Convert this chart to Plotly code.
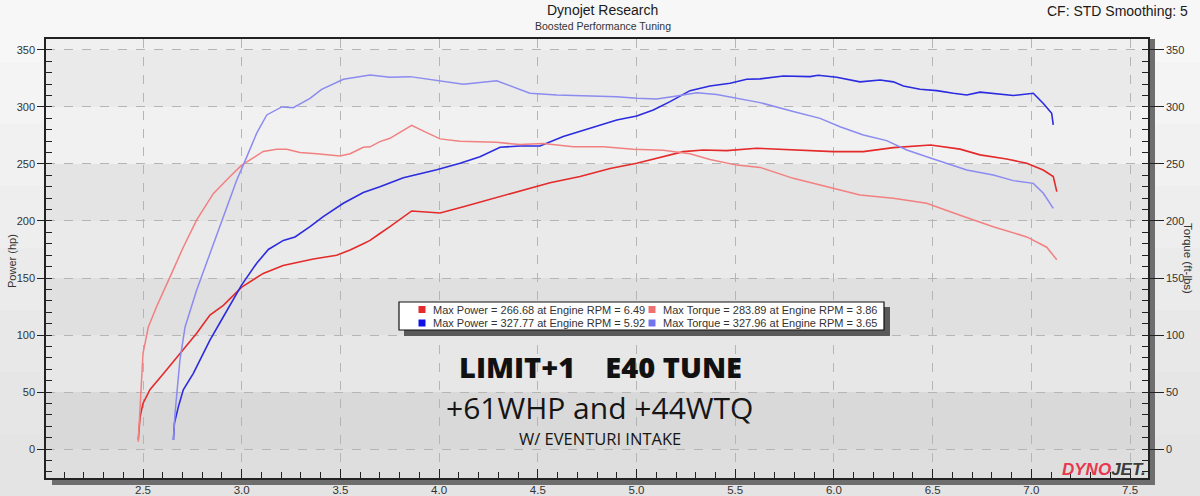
import plotly.graph_objects as go

# ---------------- data ----------------
stock_power_rpm = [2.476, 2.485, 2.5, 2.535, 2.603, 2.687, 2.772, 2.839, 2.907, 3.0, 3.109, 3.21, 3.279, 3.363,
                   3.481, 3.549, 3.616, 3.65, 3.70, 3.751, 3.861, 3.954, 4.005, 4.123, 4.241, 4.359, 4.46, 4.562,
                   4.714, 4.866, 5.001, 5.136, 5.237, 5.338, 5.457, 5.608, 5.794, 5.997, 6.149, 6.301, 6.49,
                   6.639, 6.74, 6.875, 6.977, 7.06, 7.111, 7.129]
stock_power_hp = [8, 28, 40, 52, 66, 84, 101.5, 117.5, 126, 142, 154, 161, 163.5, 166.7,
                  170, 174.6, 180, 183, 189, 195, 208.8, 208, 207, 212.5, 218, 223.7, 228.6, 233.6,
                  239, 246, 250.6, 256.4, 260.8, 262.3, 261.7, 263.8, 262.3, 260.8, 260.8, 264.3, 266.7,
                  263, 258, 254.4, 250.6, 244.7, 239, 225.7]

stock_torque_rpm = [2.476, 2.485, 2.5, 2.527, 2.569, 2.637, 2.704, 2.772, 2.856, 2.941, 3.0, 3.109, 3.177,
                    3.228, 3.295, 3.38, 3.498, 3.549, 3.616, 3.65, 3.70, 3.751, 3.861, 3.937, 4.005, 4.106,
                    4.224, 4.29, 4.41, 4.528, 4.68, 4.832, 4.984, 5.136, 5.271, 5.372, 5.508, 5.626, 5.794,
                    5.963, 6.132, 6.301, 6.47, 6.639, 6.807, 6.977, 7.078, 7.129]
stock_torque_ftlb = [6.4, 31.6, 84, 107, 125, 151, 177, 201, 224, 239, 249, 261, 263,
                     263, 260, 259, 257, 259, 264.6, 265, 269.6, 272.5, 283.9, 277.5, 272, 270,
                     269, 269, 267, 268, 265, 265, 263, 262, 259, 254, 249, 247, 237.4,
                     230, 222.8, 220, 215.5, 205, 195, 186, 177, 166]

tuned_power_rpm = [2.654, 2.659, 2.679, 2.704, 2.755, 2.839, 2.907, 3.0, 3.076, 3.135, 3.211, 3.27, 3.346,
                   3.413, 3.515, 3.616, 3.70, 3.819, 3.988, 4.106, 4.207, 4.309, 4.41, 4.511, 4.629, 4.764,
                   4.9, 5.001, 5.085, 5.17, 5.271, 5.372, 5.474, 5.558, 5.626, 5.744, 5.879, 5.92, 6.014,
                   6.132, 6.234, 6.301, 6.352, 6.436, 6.521, 6.605, 6.673, 6.74, 6.909, 7.01, 7.061, 7.103, 7.111]
tuned_power_hp = [8, 22.5, 37, 52, 66.4, 95.6, 116, 144, 163, 175, 183, 186, 195,
                  203.8, 215.5, 225, 230, 238, 245, 250.6, 256.4, 264.6, 265.8, 265.8, 274, 281.3,
                  288.6, 292, 297.4, 304.7, 314.3, 318.4, 320.8, 324.3, 324.6, 327.2, 326.6, 327.8, 326,
                  322, 323.7, 322, 318.4, 315.5, 314.3, 312, 310.5, 313, 310, 312, 303, 294.5, 284.2]

tuned_torque_rpm = [2.654, 2.662, 2.687, 2.713, 2.772, 2.839, 2.907, 2.975, 3.025, 3.076, 3.127, 3.203,
                    3.261, 3.346, 3.405, 3.515, 3.65, 3.751, 3.853, 3.988, 4.123, 4.292, 4.376, 4.46, 4.596,
                    4.731, 4.9, 5.001, 5.102, 5.204, 5.305, 5.406, 5.508, 5.626, 5.794, 5.93, 6.031, 6.149,
                    6.267, 6.369, 6.504, 6.673, 6.807, 6.909, 7.01, 7.061, 7.111]
tuned_torque_ftlb = [8, 31, 78, 107, 139.5, 171.7, 203.8, 236, 256, 277, 293, 300,
                     299.4, 307.6, 315.5, 324.3, 328, 326, 326.6, 323, 320, 323, 317.8, 312, 310.5,
                     309.6, 309, 307.6, 307, 309.6, 312.5, 311, 307.6, 303.8, 296, 290, 282.7, 275.4,
                     270.5, 262.3, 254.4, 244.7, 240.4, 235.4, 233, 224.3, 211]

legend_labels = [
    "Max Power = 266.68 at Engine RPM = 6.49",
    "Max Torque = 283.89 at Engine RPM = 3.86",
    "Max Power = 327.77 at Engine RPM = 5.92",
    "Max Torque = 327.96 at Engine RPM = 3.65",
]
x_tick_vals = [2.5, 3.0, 3.5, 4.0, 4.5, 5.0, 5.5, 6.0, 6.5, 7.0, 7.5]
y_tick_vals = [0, 50, 100, 150, 200, 250, 300, 350]

# ---------------- styling ----------------
RED = "#e42a2a"
LRED = "#f28080"
BLUE = "#2b2bdf"
LBLUE = "#8b8bf0"
FONT = "Liberation Sans"

W, H = 1200, 496
L, R, T, B = 46, 52, 39, 18
PW, PH = W - L - R, H - T - B
X_RANGE = [2.0086, 7.591]
Y_RANGE = [-25.4, 359.6]


def px(x, y):
    return (x - L) / PW, (H - B - y) / PH


fig = go.Figure()
fig.add_trace(go.Scatter(x=stock_torque_rpm, y=stock_torque_ftlb, mode="lines", yaxis="y2",
                         line=dict(color=LRED, width=1.5), showlegend=False))
fig.add_trace(go.Scatter(x=tuned_torque_rpm, y=tuned_torque_ftlb, mode="lines", yaxis="y2",
                         line=dict(color=LBLUE, width=1.5), showlegend=False))
fig.add_trace(go.Scatter(x=stock_power_rpm, y=stock_power_hp, mode="lines",
                         line=dict(color=RED, width=1.6), showlegend=False))
fig.add_trace(go.Scatter(x=tuned_power_rpm, y=tuned_power_hp, mode="lines",
                         line=dict(color=BLUE, width=1.6), showlegend=False))

shapes = []
# paper gradient (strips)
strip_cols = ["#f7f7f7", "#f4f4f4", "#f1f1f1", "#eeeeee", "#ebebeb", "#e8e8e8", "#e6e6e6", "#e4e4e4"]
n = len(strip_cols)
for i, c in enumerate(strip_cols):
    y0 = H * i / n
    y1 = H * (i + 1) / n
    x0p, y0p = px(0, y0)
    x1p, y1p = px(W, y1)
    shapes.append(dict(type="rect", xref="paper", yref="paper", x0=x0p, x1=x1p, y0=y1p, y1=y0p,
                       fillcolor=c, line_width=0, layer="below"))

# plot-area bands
band_edges = [Y_RANGE[0], 0, 50, 100, 150, 200, 250, 300, 350, Y_RANGE[1]]
band_cols = ["#dedede", "#d9d9d9", "#e7e7e7", "#e0e0e0", "#eaeaea", "#e4e4e4", "#f1f1f1", "#eaeaea", "#f0f0f0"]
for i, c in enumerate(band_cols):
    shapes.append(dict(type="rect", xref="paper", yref="y", x0=0, x1=1,
                       y0=band_edges[i], y1=band_edges[i + 1], fillcolor=c, line_width=0, layer="below"))

# right axis bar and bottom shadow bar
bx0, by0 = px(1148, 478)
bx1, by1 = px(1155, 485)
shapes.append(dict(type="rect", xref="paper", yref="paper", x0=bx0, x1=bx1, y0=by1, y1=1,
                   fillcolor="#6e6e6e", line_width=0, layer="below"))
sx0, _ = px(52, 478)
shapes.append(dict(type="rect", xref="paper", yref="paper", x0=sx0, x1=bx1, y0=by1, y1=0,
                   fillcolor="#6e6e6e", line_width=0, layer="below"))

# legend box: shadow + box
lx0, ly0 = px(404, 307)
lx1, ly1 = px(890, 336)
shapes.append(dict(type="rect", xref="paper", yref="paper", x0=lx0, x1=lx1, y0=ly1, y1=ly0,
                   fillcolor="#5a5a5a", line_width=0, layer="above"))
lx0, ly0 = px(399, 302)
lx1, ly1 = px(884, 330)
shapes.append(dict(type="rect", xref="paper", yref="paper", x0=lx0, x1=lx1, y0=ly1, y1=ly0,
                   fillcolor="white", line=dict(color="#111111", width=1.2), layer="above"))

legend_cols = [RED, "#f07070", "#1010e8", "#7474f0"]
legend_pos = [(422, 309.5), (652, 309.5), (422, 323), (652, 323)]
annotations = []
for lab, col, (cx, cy) in zip(legend_labels, legend_cols, legend_pos):
    a0, b0 = px(cx - 3.5, cy - 3.5)
    a1, b1 = px(cx + 3.5, cy + 3.5)
    shapes.append(dict(type="rect", xref="paper", yref="paper", x0=a0, x1=a1, y0=b1, y1=b0,
                       fillcolor=col, line_width=0, layer="above"))
    tx, ty = px(cx + 9, cy)
    annotations.append(dict(text=lab, xref="paper", yref="paper", x=tx, y=ty, xanchor="left",
                            yanchor="middle", showarrow=False,
                            font=dict(family=FONT, size=11, color="#333333")))


def ann(text, x, y, size, color="#222222", family=FONT, xanchor="center", angle=0, weight=None):
    xp, yp = px(x, y)
    f = dict(family=family, size=size, color=color)
    if weight:
        f["weight"] = weight
    annotations.append(dict(text=text, xref="paper", yref="paper", x=xp, y=yp, xanchor=xanchor,
                            yanchor="middle", showarrow=False, textangle=angle, font=f))


ann("Dynojet Research", 602, 10, 14, "#1a1a1a")
ann("Boosted Performance Tuning", 603, 26, 10.5, "#333333")
ann("CF: STD Smoothing: 5", 1190, 11, 14, "#1a1a1a", xanchor="right")
ann("Power (hp)", 12, 261, 11, "#333333", angle=-90)
ann("Torque (ft-lbs)", 1188, 258, 11.5, "#333333", angle=90)
ann("LIMIT+1&nbsp;&nbsp;&nbsp;&nbsp;E40 TUNE", 600, 366, 29, "#111111", family="Open Sans", weight=800)
ann("+61WHP and +44WTQ", 599, 407, 30, "#151515", family="Open Sans")
ann("W/ EVENTURI INTAKE", 600, 438, 16.5, "#151515", family="Open Sans")
ann("<b><i><span style='color:#e8384f'>DYNO</span><span style='color:#3c3c3c'>JET.</span></i></b>",
    1148, 469, 17, family="Liberation Sans", xanchor="right")

grid = dict(showgrid=True, gridcolor="#b5b5b5", gridwidth=1, griddash="dash")

fig.update_layout(
    width=W, height=H,
    margin=dict(l=L, r=R, t=T, b=B, pad=0),
    paper_bgcolor="#eeeeee",
    plot_bgcolor="#e6e6e6",
    showlegend=False,
    shapes=shapes,
    annotations=annotations,
    xaxis=dict(range=X_RANGE, tickvals=x_tick_vals, ticktext=[f"{v:.1f}" for v in x_tick_vals],
               ticks="inside", ticklen=9, tickwidth=1.2, tickcolor="#222222",
               showline=True, linecolor="#222222", linewidth=1.5, mirror=True,
               zeroline=False, tickfont=dict(family=FONT, size=11.5, color="#333333"),
               ticklabelstandoff=0, automargin=False,
               minor=dict(tick0=2.5, dtick=0.1, ticks="inside", ticklen=6, tickcolor="#222222",
                          tickwidth=1.2, showgrid=False),
               **grid),
    yaxis=dict(range=Y_RANGE, tickvals=y_tick_vals, ticks="outside", ticklen=7, tickwidth=1.2,
               tickcolor="#222222", showline=True, linecolor="#222222", linewidth=1.5,
               zeroline=False, tickfont=dict(family=FONT, size=11, color="#333333"),
               automargin=False,
               minor=dict(tick0=0, dtick=10, ticks="inside", ticklen=6, tickcolor="#222222",
                          tickwidth=1.2, showgrid=False),
               **grid),
    yaxis2=dict(range=Y_RANGE, overlaying="y", side="right", tickvals=y_tick_vals,
                ticks="outside", ticklen=14, tickwidth=1.2, tickcolor="#222222",
                showline=True, linecolor="#222222", linewidth=1.5, showgrid=False, zeroline=False,
                tickfont=dict(family=FONT, size=11, color="#333333"), automargin=False,
                minor=dict(tick0=0, dtick=10, ticks="inside", ticklen=6, tickcolor="#222222",
                           tickwidth=1.2, showgrid=False)),
)

fig.write_html("out.html")
